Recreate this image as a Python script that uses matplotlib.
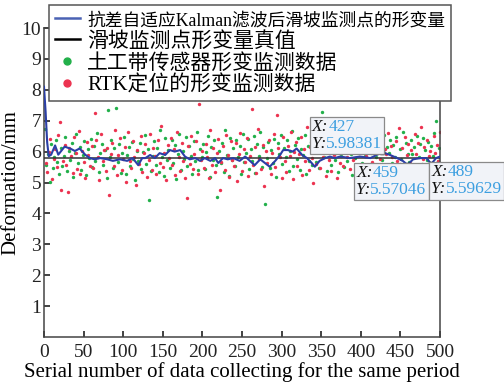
import numpy as np
import matplotlib
matplotlib.use("Agg")
import matplotlib.pyplot as plt
from matplotlib.offsetbox import TextArea, HPacker, VPacker, AnnotationBbox
from matplotlib.lines import Line2D

plt.rcParams['font.family'] = ['Liberation Serif', 'Noto Sans CJK SC', 'DejaVu Sans']

# ---------------- data ----------------
true_value = 5.8

kalman_x = [0, 2, 4, 6, 9, 14, 18, 26, 33, 39, 45, 52, 58, 64, 71, 80, 87, 96, 105, 112,
            119, 124, 128, 134, 140, 146, 153, 159, 165, 172, 178, 184, 191, 197, 203, 210,
            216, 220, 226, 232, 239, 247, 254, 260, 266, 273, 279, 285, 292, 298, 302, 308,
            314, 319, 326, 332, 338, 342, 348, 355, 361, 367, 374, 386, 399, 412, 420, 427,
            437, 446, 453, 459, 466, 475, 483, 489, 495, 500]
kalman_y = [8.1, 7.3, 6.3, 5.85, 5.9, 6.2, 5.9, 6.16, 6.1, 6.02, 6.1, 5.9, 5.79, 5.75, 5.79,
            5.75, 5.7, 5.75, 5.7, 5.79, 5.56, 5.79, 5.79, 5.89, 5.79, 5.95, 5.89, 6.05, 6.0,
            6.05, 5.84, 5.75, 5.79, 5.7, 5.79, 5.7, 5.79, 5.63, 5.79, 5.75, 5.79, 5.7, 5.84,
            5.7, 5.56, 5.75, 5.63, 5.51, 5.7, 5.89, 6.05, 6.05, 6.0, 6.1, 5.89, 5.79, 5.63,
            5.51, 5.7, 5.79, 5.84, 5.79, 5.84, 5.79, 5.84, 5.79, 5.89, 5.98381, 5.89, 5.79,
            5.7, 5.57046, 5.75, 5.79, 5.79, 5.59629, 5.79, 5.84]

green_x = list(range(1, 500, 2))
green_y = [
    6.72, 5.58, 5.91, 5.02, 6.24, 5.46, 5.83, 6.38, 5.67, 5.29,
    6.11, 5.52, 5.86, 6.47, 5.38, 6.03, 5.74, 6.29, 5.18, 5.95,
    6.56, 5.64, 6.15, 5.41, 5.88, 6.33, 5.23, 6.07, 5.79, 6.42,
    5.49, 6.19, 5.71, 6.61, 5.35, 5.97, 6.26, 5.56, 6.04, 5.14,
    7.35, 5.83, 6.37, 5.47, 6.12, 7.40, 5.66, 6.23, 5.31, 5.94,
    6.48, 5.27, 5.89, 6.16, 5.53, 6.31, 5.76, 5.09, 6.02, 5.68,
    6.27, 5.44, 5.98, 6.54, 5.61, 6.09, 4.43, 5.37, 5.85, 6.35,
    5.58, 6.13, 5.33, 6.69, 5.81, 5.22, 6.44, 5.72, 6.05, 5.47,
    6.38, 5.64, 6.21, 5.12, 5.93, 6.58, 5.41, 6.01, 5.77, 6.46,
    5.55, 6.17, 5.86, 5.28, 6.34, 5.69, 6.62, 5.39, 6.08, 5.81,
    6.25, 5.45, 5.99, 6.51, 5.17, 6.14, 5.73, 6.39, 5.56, 4.53,
    6.03, 5.62, 6.29, 5.34, 6.71, 5.88, 5.21, 6.45, 5.74, 6.12,
    5.52, 6.36, 5.84, 6.19, 5.26, 6.57, 5.67, 5.96, 6.41, 5.43,
    6.08, 5.71, 6.49, 5.32, 6.23, 5.87, 6.63, 5.51, 6.15, 4.30,
    5.79, 6.31, 5.48, 6.06, 5.64, 6.42, 5.19, 6.27, 5.92, 6.55,
    5.61, 6.11, 5.83, 6.37, 5.36, 6.02, 6.68, 5.54, 6.21, 5.76,
    6.44, 5.42, 6.09, 5.89, 6.53, 5.28, 6.17, 5.71, 6.32, 5.58,
    6.06, 5.65, 6.39, 5.47, 6.14, 7.28, 5.83, 6.26, 5.37, 5.98,
    6.48, 5.56, 6.18, 5.74, 6.61, 5.33, 6.03, 5.87, 6.35, 5.51,
    6.12, 5.69, 6.45, 5.92, 5.24, 6.27, 5.78, 6.56, 5.45, 6.08,
    5.63, 6.34, 5.86, 6.19, 5.41, 6.72, 5.97, 5.55, 6.24, 5.81,
    6.41, 5.49, 6.07, 5.73, 6.53, 5.32, 6.16, 5.94, 6.38, 5.62,
    6.21, 5.84, 6.47, 5.57, 6.09, 5.76, 6.63, 5.38, 6.28, 5.91,
    5.67, 6.36, 5.93, 6.14, 5.46, 6.52, 5.82, 6.25, 5.59, 6.43,
    6.05, 5.74, 6.31, 5.53, 6.18, 5.87, 6.61, 7.00, 5.69, 6.12]

red_x = list(range(2, 501, 2))
red_y = [
    5.62, 5.35, 5.98, 6.41, 5.12, 5.77, 6.08, 5.49, 6.55, 6.96,
    4.75, 5.71, 6.22, 5.58, 4.70, 6.13, 5.86, 5.31, 6.47, 5.94,
    5.43, 6.68, 5.27, 6.02, 5.66, 5.15, 6.31, 5.90, 5.52, 6.19,
    5.47, 7.25, 6.36, 5.81, 5.08, 6.57, 5.69, 6.04, 5.36, 6.12,
    4.60, 5.93, 6.27, 5.55, 6.71, 5.24, 5.88, 6.43, 5.39, 5.76,
    6.15, 5.02, 6.62, 5.71, 5.46, 6.33, 5.83, 4.92, 6.06, 5.59,
    6.49, 5.33, 5.97, 6.24, 5.18, 5.74, 6.58, 5.41, 6.11, 5.87,
    5.29, 6.38, 5.63, 6.82, 5.51, 5.95, 5.07, 6.21, 5.78, 6.45,
    5.56, 6.09, 5.23, 6.64, 5.84, 5.37, 6.29, 5.69, 5.13, 4.50,
    6.18, 5.61, 6.52, 5.44, 5.91, 6.35, 5.26, 7.54, 5.72, 6.03,
    5.48, 6.26, 5.81, 5.14, 6.69, 5.57, 6.12, 5.35, 5.97, 6.41,
    4.75, 5.66, 6.17, 5.42, 6.55, 5.89, 5.19, 6.33, 5.74, 5.53,
    6.28, 5.04, 5.93, 6.61, 5.38, 6.08, 5.67, 6.44, 5.21, 5.85,
    7.38, 5.58, 6.14, 5.31, 6.73, 5.76, 5.45, 6.22, 4.88, 6.02,
    5.63, 6.37, 5.28, 5.96, 6.58, 5.49, 7.18, 6.11, 5.82, 5.16,
    6.46, 5.71, 5.33, 6.19, 5.87, 6.63, 5.11, 5.99, 6.31, 5.54,
    5.92, 6.48, 5.25, 6.07, 5.68, 6.79, 5.39, 6.16, 5.79, 4.97,
    6.24, 5.61, 6.53, 5.47, 6.03, 5.84, 6.37, 5.22, 6.68, 5.74,
    5.36, 6.12, 5.89, 6.42, 5.15, 6.27, 5.64, 6.91, 5.53, 6.05,
    5.81, 6.34, 5.43, 6.17, 5.72, 6.56, 5.28, 6.09, 5.95, 6.44,
    5.57, 6.21, 5.86, 7.02, 5.49, 6.13, 5.67, 6.38, 5.18, 6.01,
    6.29, 5.76, 6.52, 5.34, 6.07, 5.92, 6.61, 5.41, 6.18, 5.83,
    5.46, 6.33, 5.71, 6.75, 5.59, 6.11, 5.25, 6.46, 5.88, 6.23,
    5.64, 6.04, 5.37, 6.57, 5.93, 6.28, 5.52, 6.81, 5.77, 6.14,
    5.43, 6.36, 5.85, 6.02, 5.31, 6.49, 5.96, 6.22, 5.68, 6.64]

tip_x = [427, 459, 489]
tip_y = [5.98381, 5.57046, 5.59629]

legend_labels = ['抗差自适应Kalman滤波后滑坡监测点的形变量', '滑坡监测点形变量真值',
                 '土工带传感器形变监测数据', 'RTK定位的形变监测数据']
xlabel = 'Serial number of data collecting for the same period'
ylabel = 'Deformation/mm'
xticks = [0, 50, 100, 150, 200, 250, 300, 350, 400, 450, 500]
yticks = [1, 2, 3, 4, 5, 6, 7, 8, 9, 10]

# ---------------- plot ----------------
fig = plt.figure(figsize=(5.04, 3.92), dpi=100)
ax = fig.add_axes([44/504, 1-337/392, 396/504, 309/392])

green_c = '#22b04a'
red_c = '#ec3350'
blue_c = '#2b3fa6'

ax.scatter(green_x, green_y, s=6, color=green_c, linewidths=0, zorder=2)
ax.scatter(red_x, red_y, s=6, color=red_c, linewidths=0, zorder=2)
ax.axhline(true_value, color='#333333', lw=1.1, zorder=3)
ax.plot(kalman_x, kalman_y, color=blue_c, lw=1.5, zorder=4)

ax.set_xlim(0, 500)
ax.set_ylim(0, 10)
ax.set_xticks(xticks)
ax.set_yticks(yticks)
ax.tick_params(direction='in', length=4, width=1.2, labelsize=14, pad=2, colors='#222222')
ax.tick_params(axis='x', pad=5)
for sp in ax.spines.values():
    sp.set_color('#444444')
    sp.set_linewidth(1.1)
ax.set_xlabel(xlabel, fontsize=15, labelpad=1)
ax.set_ylabel(ylabel, fontsize=15, labelpad=1)

# data tips
val_c = '#3d9fe0'
aligns = [(1.0, 0.0), (0.73, 1.0), (0.0, 1.0)]
for xv, yv, al in zip(tip_x, tip_y, aligns):
    ax.plot([xv], [yv], marker='s', ms=2.5, color='black', zorder=6, clip_on=False)
    fp_lab = dict(size=12.5, style='italic', color='#111111')
    fp_val = dict(size=12.5, color=val_c)
    row1 = HPacker(children=[TextArea('X:', textprops=fp_lab), TextArea(f'{xv}', textprops=fp_val)],
                   align='baseline', pad=0, sep=0)
    row2 = HPacker(children=[TextArea('Y:', textprops=fp_lab), TextArea(f'{yv:.5f}', textprops=fp_val)],
                   align='baseline', pad=0, sep=0)
    box = VPacker(children=[row1, row2], align='left', pad=0, sep=1)
    ab = AnnotationBbox(box, (xv, yv), xycoords='data', box_alignment=al, pad=0.15,
                        frameon=True, annotation_clip=False, zorder=7,
                        bboxprops=dict(boxstyle='square,pad=0.15', fc='#f1f3f8', ec='#8a8a8a', lw=0.9))
    ax.add_artist(ab)

# legend
handles = [Line2D([], [], color='#4a62b4', lw=1.8),
           Line2D([], [], color='black', lw=1.8),
           Line2D([], [], ls='none', marker='o', ms=5, color=green_c),
           Line2D([], [], ls='none', marker='o', ms=5, color=red_c)]
leg = fig.legend(handles, legend_labels, loc='upper left', bbox_to_anchor=(49/504, 1-5/392),
                 fontsize=15, frameon=True, fancybox=False, framealpha=1, edgecolor='#555555',
                 borderpad=0.28, labelspacing=0.1, handlelength=1.2, handletextpad=0.35,
                 borderaxespad=0)
leg.get_texts()[0].set_fontsize(12.8)
leg.get_frame().set_linewidth(1.1)
leg.set_zorder(10)

fig.savefig('out.png', dpi=100)
